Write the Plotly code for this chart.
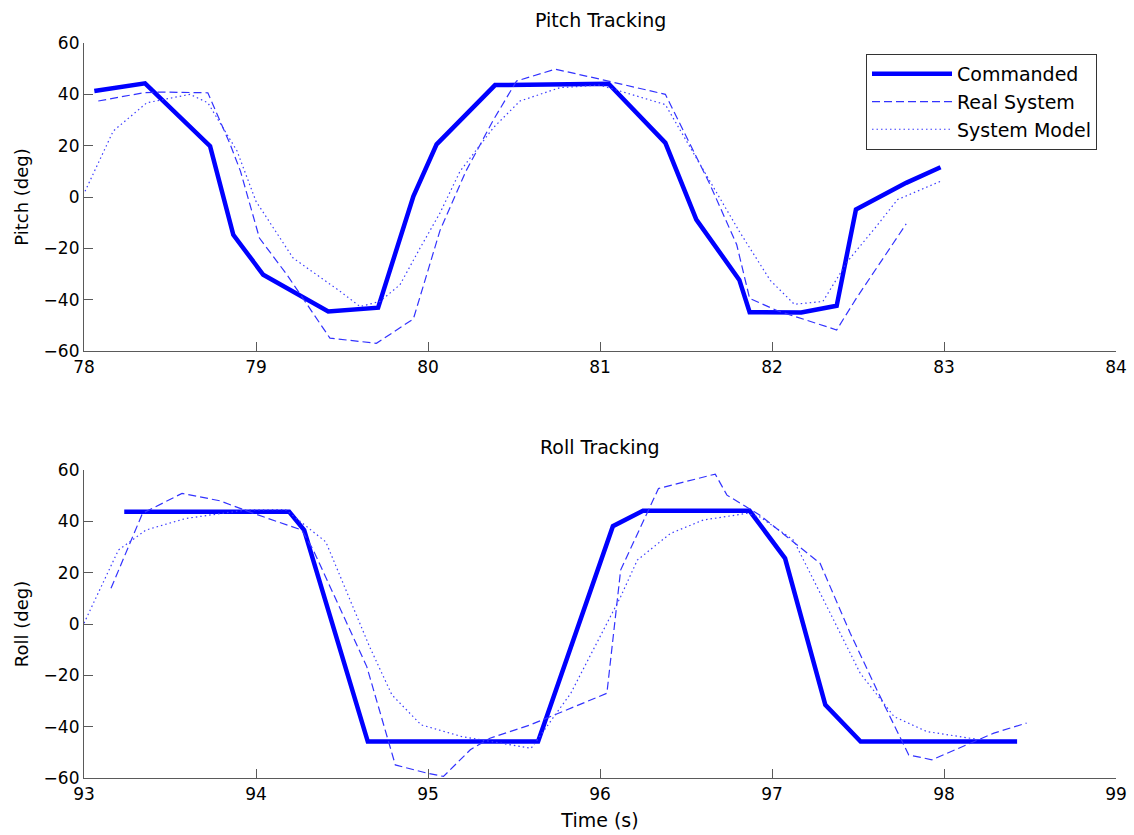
import plotly.graph_objects as go

# Pitch tracking (time in s, angle in deg)
pitch_cmd_t = [78.06, 78.355, 78.733, 78.868, 79.042, 79.42, 79.71, 79.915, 80.05, 80.39,
               81.05, 81.38, 81.56, 81.81, 81.87, 82.17, 82.376, 82.488, 82.78, 82.98]
pitch_cmd_v = [41.3, 44.3, 19.8, -14.7, -30.3, -44.6, -43.1, 0.3, 20.5, 43.6,
               44.1, 21.1, -8.8, -32.3, -44.9, -45.0, -42.4, -4.9, 5.5, 11.6]

pitch_real_t = [78.083, 78.345, 78.44, 78.72, 78.85, 78.91, 79.02, 79.18, 79.43, 79.70,
                79.915, 80.07, 80.22, 80.38, 80.515, 80.74, 81.0, 81.38, 81.64, 81.795,
                81.87, 82.035, 82.376, 82.49, 82.78]
pitch_real_v = [37.4, 40.6, 40.9, 40.6, 20.5, 10.0, -16.0, -30.3, -55.0, -57.0,
                -47.5, -13.0, 10.0, 30.0, 45.2, 49.8, 45.9, 40.0, 4.8, -18.6,
                -39.5, -44.4, -51.8, -39.5, -10.5]

pitch_model_t = [78.006, 78.17, 78.365, 78.616, 78.72, 78.89, 79.0, 79.216, 79.49, 79.605,
                 79.72, 79.837, 79.953, 80.07, 80.186, 80.38, 80.535, 80.767, 81.0, 81.38,
                 81.56, 81.81, 81.99, 82.13, 82.296, 82.44, 82.6, 82.73, 82.99]
pitch_model_v = [2.2, 25.7, 36.7, 40.0, 36.7, 17.9, -1.7, -23.8, -36.8, -42.7,
                 -40.7, -34.2, -20.0, -6.2, 10.0, 27.0, 37.4, 42.6, 43.6, 36.0,
                 15.2, -13.4, -32.5, -41.8, -40.7, -25.0, -12.0, -1.0, 6.4]

# Roll tracking (time in s, angle in deg)
roll_cmd_t = [93.234, 94.193, 94.28, 94.65, 95.64, 96.075, 96.25, 96.87, 97.076, 97.31,
              97.515, 98.425]
roll_cmd_v = [43.7, 43.7, 36.6, -45.8, -45.8, 38.1, 44.1, 44.1, 25.6, -31.5,
              -45.8, -45.8]

roll_real_t = [93.157, 93.34, 93.57, 93.79, 93.985, 94.266, 94.333, 94.644, 94.81, 94.994,
               95.09, 95.246, 95.36, 95.595, 96.04, 96.12, 96.34, 96.67, 96.738, 96.93,
               97.28, 97.455, 97.61, 97.795, 97.93, 98.29, 98.48]
roll_real_v = [13.9, 43.1, 50.9, 48.0, 43.1, 36.6, 28.8, -16.6, -54.9, -58.1,
               -59.4, -49.0, -44.5, -39.3, -27.0, 21.0, 52.8, 58.4, 50.2, 42.4,
               23.6, -3.6, -25.7, -51.0, -52.9, -42.5, -38.6]

roll_model_t = [93.0, 93.2, 93.36, 93.59, 93.94, 94.17, 94.406, 94.66, 94.79, 94.96,
                95.193, 95.6, 95.83, 96.12, 96.217, 96.41, 96.6, 96.854, 96.93, 97.125,
                97.32, 97.513, 97.71, 97.9, 98.19]
roll_model_v = [0.3, 28.8, 36.6, 41.1, 44.4, 44.6, 32.0, -8.8, -27.6, -39.3,
                -43.8, -48.4, -27.0, 10.6, 24.9, 35.3, 40.5, 43.1, 41.7, 32.7,
                6.7, -19.2, -36.1, -41.9, -44.9]

series_names = ["Commanded", "Real System", "System Model"]
y_ticks = [-60, -40, -20, 0, 20, 40, 60]

BLUE = "#0000ff"
FONT = "DejaVu Sans, Liberation Sans, sans-serif"
W, H = 1134, 835
ML, MR, MT, MB = 84, 18, 43, 57

styles = [
    dict(color=BLUE, width=4.5),
    dict(color="rgb(50,50,255)", width=1.2, dash="8px,4px"),
    dict(color="rgb(60,60,255)", width=1.2, dash="1.5px,3px"),
]

fig = go.Figure()

panels = [
    ("x", "y", [(pitch_cmd_t, pitch_cmd_v), (pitch_real_t, pitch_real_v), (pitch_model_t, pitch_model_v)], True),
    ("x2", "y2", [(roll_cmd_t, roll_cmd_v), (roll_real_t, roll_real_v), (roll_model_t, roll_model_v)], False),
]
for xa, ya, data, show in panels:
    for (t, v), name, st in zip(data, series_names, styles):
        fig.add_trace(go.Scatter(x=t, y=v, mode="lines", name=name, line=st,
                                 xaxis=xa, yaxis=ya, showlegend=show))

plot_h = H - MT - MB


def paper_y(py):
    return (H - MB - py) / plot_h


def paper_x(px):
    return (px - ML) / (W - ML - MR)


axis_common = dict(showline=True, linecolor="#5a5a5a", linewidth=1.2, mirror=False,
                   ticks="inside", ticklen=9, tickwidth=1, tickcolor="#5a5a5a",
                   showgrid=False, zeroline=False, automargin=False,
                   tickfont=dict(family=FONT, size=17, color="black"))

fig.update_layout(
    width=W, height=H,
    margin=dict(l=ML, r=MR, t=MT, b=MB),
    paper_bgcolor="white", plot_bgcolor="white",
    font=dict(family=FONT, size=19, color="black"),
    xaxis=dict(domain=[0, 1], anchor="y", range=[78, 84], dtick=1, **axis_common),
    yaxis=dict(domain=[paper_y(351), 1], anchor="x", range=[-60, 60], tickvals=y_ticks,
               title=dict(text="Pitch (deg)", standoff=10, font=dict(size=18)), **axis_common),
    xaxis2=dict(domain=[0, 1], anchor="y2", range=[93, 99], dtick=1,
                title=dict(text="Time (s)", standoff=11, font=dict(size=19)), **axis_common),
    yaxis2=dict(domain=[0, paper_y(470)], anchor="x2", range=[-60, 60], tickvals=y_ticks,
                title=dict(text="Roll (deg)", standoff=10, font=dict(size=18)), **axis_common),
    legend=dict(x=paper_x(866), y=paper_y(54), xanchor="left", yanchor="top",
                bgcolor="white", bordercolor="#333333", borderwidth=1,
                font=dict(family=FONT, size=19), itemwidth=80, tracegroupgap=0),
    showlegend=True,
)

fig.add_annotation(text="Pitch Tracking", x=0.5, xref="paper", y=paper_y(20), yref="paper",
                   showarrow=False, font=dict(family=FONT, size=19), yanchor="middle")
fig.add_annotation(text="Roll Tracking", x=0.5, xref="paper", y=paper_y(447), yref="paper",
                   showarrow=False, font=dict(family=FONT, size=19), yanchor="middle")

fig.write_html("out.html")
